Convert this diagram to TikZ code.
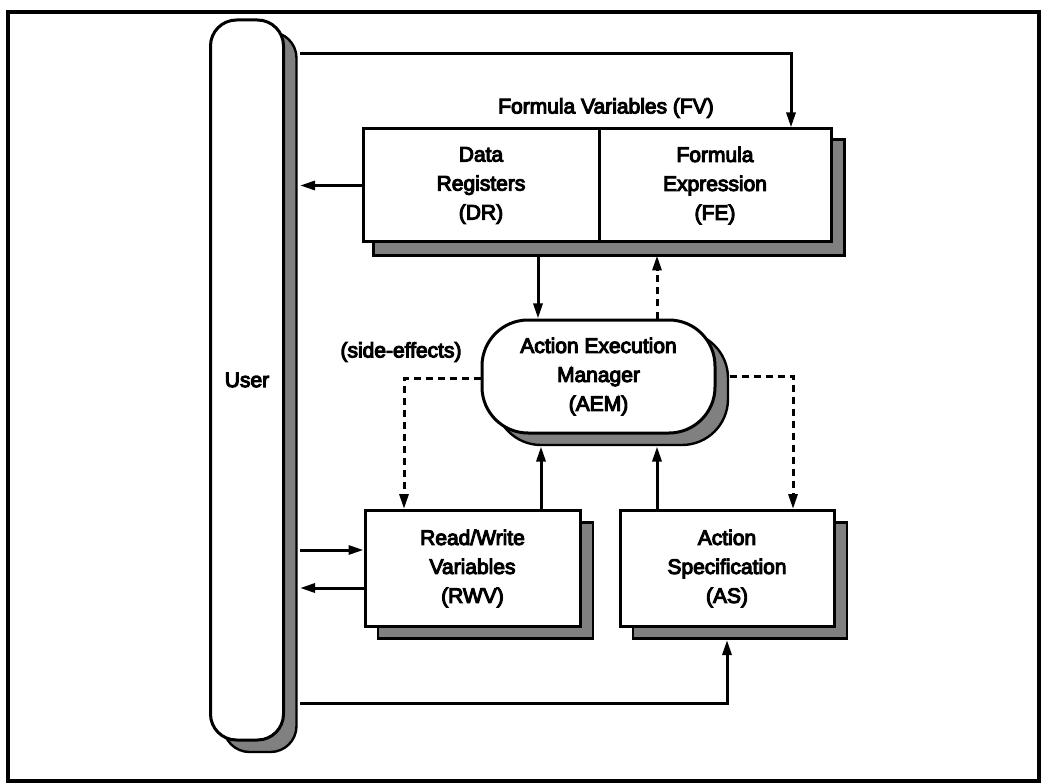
\documentclass[tikz,border=0pt]{standalone}
\usepackage{fontspec}
\setmainfont[FakeBold=5]{Liberation Sans}
\usetikzlibrary{arrows.meta,shadows,backgrounds}

\begin{document}
\begin{tikzpicture}[x=1pt,y=-1pt,
    font=\fontsize{21}{29}\selectfont,
    stipple/.style={fill=black!50,draw=black,line width=2.4pt},
    cell/.style={draw,fill=white,align=center,inner sep=0pt,line width=3pt},
    blk/.style={cell,copy shadow={shadow xshift=13pt,shadow yshift=-12pt,stipple}},
    arr/.style={line width=3pt,-{Triangle[length=15pt,width=9pt]}},
    dsh/.style={arr,dash pattern=on 7pt off 5pt}]
  \useasboundingbox (0,0) rectangle (1043,783);
  \draw[line width=4pt] (8,12) rectangle (1039,781);

  \node[blk,rounded corners=26pt,minimum width=73pt,minimum height=720pt] (user) at (247,380) {User};
  \node[cell,minimum width=236pt,minimum height=113pt] (dr) at (481,185.5) {Data\\Registers\\(DR)};
  \node[cell,minimum width=232pt,minimum height=113pt] (fe) at (715,185.5) {Formula\\Expression\\(FE)};
  \node[blk,rounded corners=46pt,minimum width=233pt,minimum height=113pt] (aem) at (598.5,376.5) {Action Execution\\Manager\\(AEM)};
  \node[blk,minimum width=215pt,minimum height=116pt] (rwv) at (472.5,568.5) {Read/Write\\Variables\\(RWV)};
  \node[blk,minimum width=214pt,minimum height=116pt] (as) at (727,568.5) {Action\\Specification\\(AS)};
  \node (fv) at (606,108) {Formula Variables (FV)};
  \node (side) at (401,352) {(side-effects)};

  % shadow of the FV box
  \begin{scope}[on background layer]
    \draw[stipple] ([shift={(12pt,-12pt)}]dr.north west) rectangle ([shift={(12pt,-12pt)}]fe.south east);
  \end{scope}

  \coordinate (ushad) at ([xshift=15pt]user.east);
  \coordinate (tshad) at ([yshift=-12pt]dr.south);
  \coordinate (ashad) at ([yshift=-12pt]aem.south);
  \coordinate (eshad) at ([xshift=13pt]aem.east);
  \coordinate (bshad) at ([yshift=-12pt]as.south);

  \draw[arr] (ushad |- 0,54) -| ([xshift=76pt]fe.north);
  \draw[arr] (dr.west) -- (ushad |- dr.west);
  \draw[arr] (tshad -| 538,0) -- (aem.north -| 538,0);
  \draw[dsh] (aem.north -| 657,0) -- (tshad -| 657,0);
  \draw[dsh] (aem.west |- 0,378) -| (rwv.north -| 404,0);
  \draw[dsh] (eshad |- 0,376) -| (as.north -| 793,0);
  \draw[arr] (rwv.north -| 541,0) -- (ashad -| 541,0);
  \draw[arr] (as.north -| 657,0) -- (ashad -| 657,0);
  \draw[arr] (ushad |- 0,550) -- (rwv.west |- 0,550);
  \draw[arr] (rwv.west |- 0,588) -- (ushad |- 0,588);
  \draw[arr] (ushad |- 0,703) -| (bshad);
\end{tikzpicture}
\end{document}
